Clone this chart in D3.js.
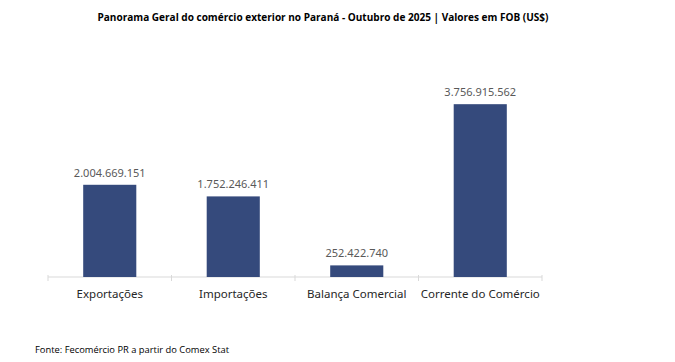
<!DOCTYPE html>
<html><head><meta charset="utf-8">
<script src="https://cdn.jsdelivr.net/npm/d3@7"></script>
<style>body{margin:0;background:#fff}svg{display:block}</style>
</head><body>
<svg id="c" width="675" height="362"></svg>
<script>
const categories = ["Exportações", "Importações", "Balança Comercial", "Corrente do Comércio"];
const values = [2004669151, 1752246411, 252422740, 3756915562];
const labels = ["2.004.669.151", "1.752.246.411", "252.422.740", "3.756.915.562"];
const title = "Panorama Geral do comércio exterior no Paraná - Outubro de 2025 | Valores em FOB (US$)";
const source = "Fonte: Fecomércio PR a partir do Comex Stat";

const svg = d3.select("#c");
const x = d3.scaleBand().domain(categories).range([48, 542]).paddingInner(0.57).paddingOuter(0.285);
const y = d3.scaleLinear().domain([0, 4e9]).range([277, 93]);

svg.append("text").attr("x", 323).attr("y", 21).attr("text-anchor", "middle")
  .attr("font-family", "Open Sans, sans-serif").attr("font-weight", "bold").attr("font-size", 10.5)
  .attr("fill", "#000").attr("textLength", 451).attr("lengthAdjust", "spacingAndGlyphs").text(title);

// axis line and ticks
svg.append("line").attr("x1", 48).attr("x2", 542).attr("y1", 277).attr("y2", 277)
  .attr("stroke", "#d9d9d9").attr("stroke-width", 1.2);
const step = x.step();
const bounds = d3.range(categories.length + 1).map(i => 48 + i * step);
svg.selectAll("line.tk").data(bounds).join("line").attr("class", "tk")
  .attr("x1", d => d).attr("x2", d => d).attr("y1", 275).attr("y2", 281)
  .attr("stroke", "#d9d9d9").attr("stroke-width", 1);

svg.selectAll("rect.bar").data(values).join("rect").attr("class", "bar")
  .attr("x", (d, i) => x(categories[i])).attr("width", x.bandwidth())
  .attr("y", d => y(d)).attr("height", d => y(0) - y(d)).attr("fill", "#354a7c");

svg.selectAll("text.val").data(values).join("text").attr("class", "val")
  .attr("x", (d, i) => x(categories[i]) + x.bandwidth() / 2).attr("y", d => y(d) - 8)
  .attr("text-anchor", "middle").attr("font-family", "Noto Sans, sans-serif").attr("font-size", 11)
  .attr("fill", "#595959").text((d, i) => labels[i]);

svg.selectAll("text.cat").data(categories).join("text").attr("class", "cat")
  .attr("x", d => x(d) + x.bandwidth() / 2).attr("y", 298)
  .attr("text-anchor", "middle").attr("font-family", "Noto Sans, sans-serif").attr("font-size", 11.5)
  .attr("fill", "#262626").text(d => d);

svg.append("text").attr("x", 35).attr("y", 353)
  .attr("font-family", "Open Sans, sans-serif").attr("font-size", 9.5).attr("fill", "#000")
  .attr("textLength", 194).attr("lengthAdjust", "spacingAndGlyphs").text(source);
</script>
</body></html>
